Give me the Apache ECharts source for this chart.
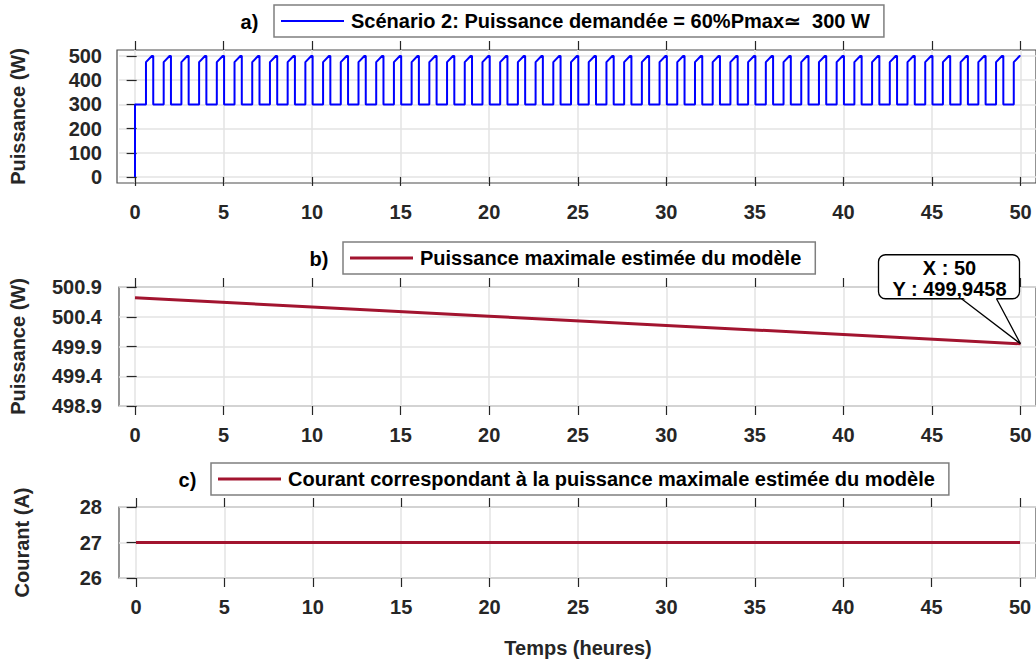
<!DOCTYPE html>
<html><head><meta charset="utf-8">
<script src="https://cdn.jsdelivr.net/npm/echarts@6/dist/echarts.min.js"></script>
<style>html,body{margin:0;padding:0;background:#fff}#c{width:1036px;height:661px}</style>
</head><body><div id="c"></div>
<script>
// ---------- data ----------
// panel a: power demand (pulse train)
const startT = [0, 0];
const startP = [0, 300];
const pulseTimes = [1,2,3,4,5,6,7,8,9,10,11,12,13,14,15,16,17,18,19,20,21,22,23,24,25,26,27,28,29,30,31,32,33,34,35,36,37,38,39,40,41,42,43,44,45,46,47,48,49,50];
const pulseDt = [-0.38, -0.38, -0.05, 0.03, 0.03];
const pulseLevel = [300, 475, 500, 500, 300];
const endT = 50;
const endP = 500;
// panel b: estimated maximum power
const timeB = [0, 10, 20, 30, 40, 50];
const powerMaxB = [500.72, 500.565, 500.41, 500.255, 500.10, 499.9458];
// panel c: current
const timeC = [0, 50];
const currentC = [27, 27];
// annotation
const annotX = [50];
const annotY = [499.9458];
const annotText = ['X : 50', 'Y : 499,9458'];
// axes
const xRange = [0, 50, 5];
const yRangeA = [0, 500, 100];
const yRangeB = [498.9, 500.9, 0.5];
const yRangeC = [26, 28, 1];
// texts
const nameA = 'Scénario 2: Puissance demandée = 60%Pmax\u2243\u00a0 300 W';
const nameB = 'Puissance maximale estimée du modèle';
const nameC = 'Courant correspondant à la puissance maximale estimée du modèle';
const yTitleAB = 'Puissance (W)';
const yTitleC = 'Courant (A)';
const xTitle = 'Temps (heures)';
const panelLabels = ['a)', 'b)', 'c)'];

// ---------- build ----------
const dataA = startT.map((t, i) => [t, startP[i]]);
pulseTimes.forEach(k => pulseDt.forEach((d, j) => {
  const t = +(k + d).toFixed(3);
  if (t <= endT) dataA.push([t, pulseLevel[j]]);
}));
dataA.push([endT, endP]);
const dataB = timeB.map((t, i) => [t, powerMaxB[i]]);
const dataC = timeC.map((t, i) => [t, currentC[i]]);

const FONT = 'Liberation Sans, Arial, sans-serif';
const TXT = '#262626';
const AX = '#4d4d4d';
const GRIDC = '#e3e3e3';
const RED = '#A2142F';
const BLUE = '#0000ff';

const lbl = { fontFamily: FONT, fontWeight: 'bold', fontSize: 20, color: TXT };

function frameGrid(left, top, width, height) {
  return { left, top, width, height, show: true, borderColor: AX, borderWidth: 1.2, backgroundColor: 'transparent', containLabel: false };
}
function plainGrid(left, top, width, height) {
  return { left, top, width, height, show: false, containLabel: false };
}
function hiddenX(grid, min, max) { return { type: 'value', gridIndex: grid, min, max, show: false }; }
function hiddenY(grid, min, max) { return { type: 'value', gridIndex: grid, min, max, show: false }; }
function dataXBottom(grid, extra) {
  return Object.assign({
    type: 'value', gridIndex: grid, position: 'bottom', min: xRange[0], max: xRange[1], interval: xRange[2],
    axisLine: { show: false },
    axisTick: { show: true, inside: false, length: 9, lineStyle: { color: TXT, width: 1.2 } },
    axisLabel: Object.assign({ margin: 19 }, lbl),
    splitLine: { show: true, lineStyle: { color: GRIDC, width: 1.5 } }
  }, extra || {});
}
function dataXTop(grid) {
  return {
    type: 'value', gridIndex: grid, position: 'top', min: xRange[0], max: xRange[1], interval: xRange[2],
    axisLine: { show: false },
    axisTick: { show: true, inside: false, length: 9, lineStyle: { color: TXT, width: 1.2 } },
    axisLabel: { show: false }, splitLine: { show: false }
  };
}
function shownY(grid, r, title, gap, fmt) {
  return {
    type: 'value', gridIndex: grid, position: 'left', min: r[0], max: r[1], interval: r[2],
    axisLine: { show: false },
    axisTick: { show: true, inside: false, length: 10, lineStyle: { color: TXT, width: 1.2 } },
    axisLabel: Object.assign({ margin: 17, formatter: fmt }, lbl),
    splitLine: { show: true, lineStyle: { color: GRIDC, width: 1.5 } },
    name: title, nameLocation: 'middle', nameGap: gap,
    nameTextStyle: { fontFamily: FONT, fontWeight: 'bold', fontSize: 20, color: TXT }
  };
}
function legendBox(name, left, top, thick) {
  return {
    data: [name], left, top, orient: 'horizontal', selectedMode: false,
    icon: 'rect',
    padding: [6, 14, 6, 7], itemWidth: 63, itemHeight: thick, itemGap: 0,
    backgroundColor: '#fff', borderColor: '#7f7f7f', borderWidth: 1.5, borderRadius: 0,
    textStyle: { fontFamily: FONT, fontWeight: 'bold', fontSize: 20, color: '#000', padding: [0, 0, 0, 2] }
  };
}

const option = {
  animation: false,
  backgroundColor: '#fff',
  grid: [
    frameGrid(117, 50, 922, 133),          // 0 panel a frame
    plainGrid(135, 50, 885.5, 133),        // 1 panel a x/data
    plainGrid(117, 56.05, 922, 120.9),     // 2 panel a y ticks
    frameGrid(117, 287, 922, 119),         // 3 panel b frame + y
    plainGrid(135, 287, 885.5, 119),       // 4 panel b x/data
    frameGrid(119, 507, 920, 71),          // 5 panel c frame + y
    plainGrid(136, 507, 884, 71)           // 6 panel c x/data
  ],
  xAxis: [
    hiddenX(0, -1, 51),
    dataXBottom(1),
    dataXTop(1),
    hiddenX(2, -1, 51),
    hiddenX(3, -1, 51),
    dataXBottom(4),
    dataXTop(4),
    hiddenX(5, -1, 51),
    dataXBottom(6, { name: xTitle, nameLocation: 'middle', nameGap: 60,
      nameTextStyle: { fontFamily: FONT, fontWeight: 'bold', fontSize: 20, color: TXT } }),
    dataXTop(6)
  ],
  yAxis: [
    hiddenY(0, -25, 525),
    hiddenY(1, -25, 525),
    shownY(2, yRangeA, yTitleAB, 91, v => String(v)),
    shownY(3, yRangeB, yTitleAB, 91, v => v.toFixed(1)),
    hiddenY(4, yRangeB[0], yRangeB[1]),
    shownY(5, yRangeC, yTitleC, 87, v => String(v)),
    hiddenY(6, yRangeC[0], yRangeC[1])
  ],
  legend: [
    legendBox(nameA, 274, 5, 2),
    legendBox(nameB, 343, 242, 3),
    legendBox(nameC, 211, 463, 3)
  ],
  series: [
    { name: nameA, type: 'line', xAxisIndex: 1, yAxisIndex: 1, data: dataA, symbol: 'none', showSymbol: false,
      lineStyle: { color: BLUE, width: 2 }, itemStyle: { color: BLUE }, z: 5 },
    { name: nameB, type: 'line', xAxisIndex: 5, yAxisIndex: 4, data: dataB, symbol: 'none', showSymbol: false,
      lineStyle: { color: RED, width: 3 }, itemStyle: { color: RED }, z: 5 },
    { name: nameC, type: 'line', xAxisIndex: 8, yAxisIndex: 6, data: dataC, symbol: 'none', showSymbol: false,
      lineStyle: { color: RED, width: 3 }, itemStyle: { color: RED }, z: 5 }
  ],
  graphic: [
    { type: 'text', x: 249.5, y: 21.5, z: 20, style: { text: panelLabels[0], fontFamily: FONT, fontWeight: 'bold', fontSize: 20, fill: '#000', align: 'center', verticalAlign: 'middle' } },
    { type: 'text', x: 319, y: 258.5, z: 20, style: { text: panelLabels[1], fontFamily: FONT, fontWeight: 'bold', fontSize: 20, fill: '#000', align: 'center', verticalAlign: 'middle' } },
    { type: 'text', x: 187.5, y: 480, z: 20, style: { text: panelLabels[2], fontFamily: FONT, fontWeight: 'bold', fontSize: 20, fill: '#000', align: 'center', verticalAlign: 'middle' } }
  ]
};

const chart = echarts.init(document.getElementById('c'), null, { renderer: 'svg', width: 1036, height: 661 });
chart.setOption(option);

// callout anchored on the data point through the axis scales
const tip = chart.convertToPixel({ xAxisIndex: 5, yAxisIndex: 4 }, [annotX[0], annotY[0]]);
const tx = tip[0], ty = tip[1];
const bx0 = tx - 142, bx1 = tx - 1, by0 = ty - 89, by1 = ty - 45;
const nL = tx - 59, nR = tx - 24;
const g = option.graphic.slice();
g.push(
  { type: 'rect', z: 30, shape: { x: bx0, y: by0, width: bx1 - bx0, height: by1 - by0, r: 7 },
    style: { fill: '#fff', stroke: '#000', lineWidth: 1.3 } },
  { type: 'polygon', z: 31, shape: { points: [[nL + 0.8, by1 - 1.5], [nR - 0.8, by1 - 1.5], [tx, ty]] },
    style: { fill: '#fff', stroke: null } },
  { type: 'polyline', z: 32, shape: { points: [[nL, by1], [tx, ty], [nR, by1]] },
    style: { fill: null, stroke: '#000', lineWidth: 1.3 } },
  { type: 'text', z: 33, x: tx - 71, y: ty - 76, style: { text: annotText[0], fontFamily: FONT, fontWeight: 'bold', fontSize: 20, fill: '#000', align: 'center', verticalAlign: 'middle' } },
  { type: 'text', z: 33, x: tx - 71, y: ty - 55, style: { text: annotText[1], fontFamily: FONT, fontWeight: 'bold', fontSize: 20, fill: '#000', align: 'center', verticalAlign: 'middle' } }
);
chart.setOption({ graphic: g });
</script>
</body></html>
